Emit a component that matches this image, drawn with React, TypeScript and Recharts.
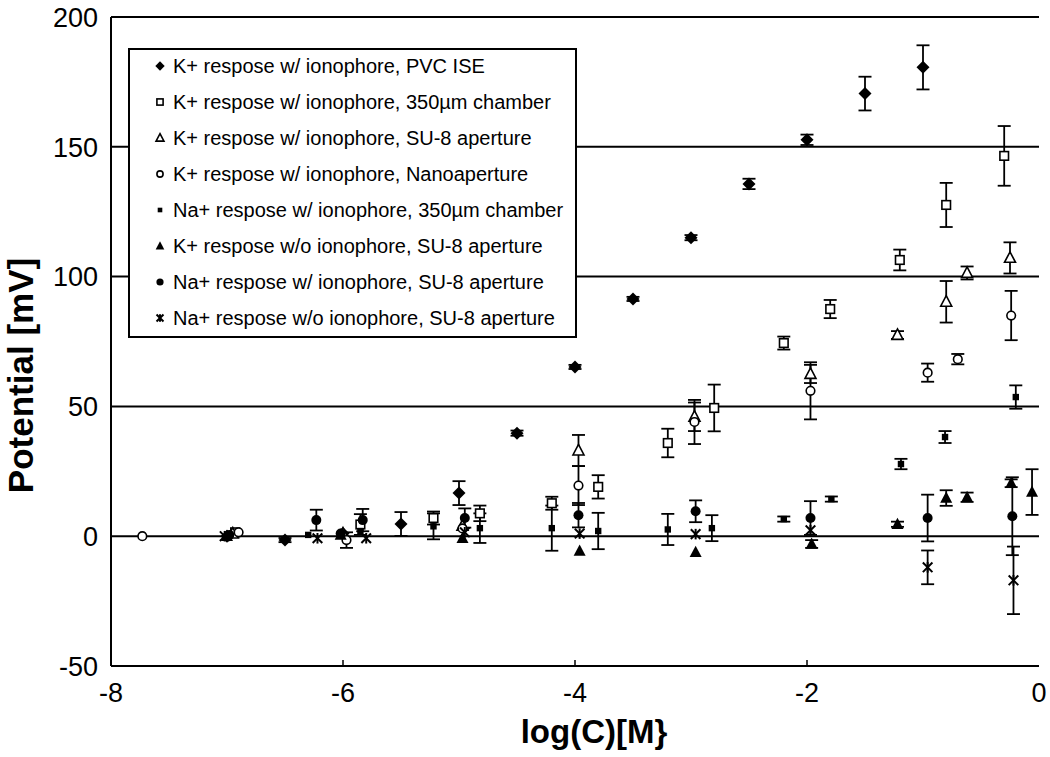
import React from "react"
import { ScatterChart, Scatter, XAxis, YAxis, CartesianGrid, ErrorBar, Legend } from "recharts"

const FONT = "'Liberation Sans', Arial, Helvetica, sans-serif"

// log(C) vs potential, err = half-length of the error bar
const kPvcIse = [
  { x: -7, y: 0 },
  { x: -6.5, y: -1.5, err: 0.8 },
  { x: -6, y: 1 },
  { x: -5.5, y: 4.7, err: 4.6 },
  { x: -5, y: 16.6, err: 4.6 },
  { x: -4.5, y: 39.7, err: 1 },
  { x: -4, y: 65.2, err: 0.8 },
  { x: -3.5, y: 91.4, err: 0.8 },
  { x: -3, y: 115, err: 1 },
  { x: -2.5, y: 135.7, err: 2 },
  { x: -2, y: 152.7, err: 2 },
  { x: -1.5, y: 170.5, err: 6.5 },
  { x: -1, y: 180.6, err: 8.5 },
]

const kChamber = [
  { x: -6.93, y: 1.5 },
  { x: -5.85, y: 4.5, err: 4 },
  { x: -5.22, y: 7, err: 2.5 },
  { x: -4.82, y: 8.8, err: 3 },
  { x: -4.2, y: 12.7, err: 2.5 },
  { x: -3.8, y: 19, err: 4.5 },
  { x: -3.2, y: 35.9, err: 5.5 },
  { x: -2.8, y: 49.4, err: 9 },
  { x: -2.2, y: 74.4, err: 2.5 },
  { x: -1.8, y: 87.5, err: 3.5 },
  { x: -1.2, y: 106.4, err: 4 },
  { x: -0.8, y: 127.6, err: 8.5 },
  { x: -0.3, y: 146.5, err: 11.5 },
]

const kSu8 = [
  { x: -6.95, y: 1 },
  { x: -6, y: 1 },
  { x: -4.97, y: 4 },
  { x: -3.97, y: 33, err: 6 },
  { x: -2.97, y: 46, err: 5.5 },
  { x: -1.97, y: 62.5, err: 3.5 },
  { x: -1.22, y: 77.5, err: 1.5 },
  { x: -0.8, y: 90.3, err: 8 },
  { x: -0.62, y: 101.4, err: 2.5 },
  { x: -0.25, y: 107.2, err: 6 },
]

const kNano = [
  { x: -7.73, y: 0 },
  { x: -6.9, y: 1.5 },
  { x: -5.97, y: -1.5, err: 3 },
  { x: -4.97, y: 3 },
  { x: -3.97, y: 19.5, err: 7.5 },
  { x: -2.97, y: 44, err: 8.5 },
  { x: -1.97, y: 56, err: 11 },
  { x: -0.96, y: 63, err: 3.5 },
  { x: -0.7, y: 68.2, err: 2 },
  { x: -0.24, y: 85, err: 9.5 },
]

const naChamber = [
  { x: -6.3, y: 0.5 },
  { x: -5.85, y: 2 },
  { x: -5.22, y: 3.8, err: 5 },
  { x: -4.82, y: 3.1, err: 5.7 },
  { x: -4.2, y: 3.1, err: 8.7 },
  { x: -3.8, y: 2, err: 7 },
  { x: -3.2, y: 2.6, err: 6 },
  { x: -2.82, y: 3.1, err: 5 },
  { x: -2.2, y: 6.6, err: 1 },
  { x: -1.79, y: 14.3, err: 1 },
  { x: -1.19, y: 27.8, err: 2 },
  { x: -0.81, y: 38.2, err: 2.3 },
  { x: -0.2, y: 53.6, err: 4.5 },
]

const kNoIonoSu8 = [
  { x: -7, y: 0 },
  { x: -6.02, y: 0.5 },
  { x: -4.97, y: -0.8 },
  { x: -3.96, y: -5.7 },
  { x: -2.96, y: -6.2 },
  { x: -1.96, y: -3, err: 1.5 },
  { x: -1.22, y: 4.6, err: 1 },
  { x: -0.8, y: 14.7, err: 3 },
  { x: -0.62, y: 15, err: 1.8 },
  { x: -0.24, y: 20.4, err: 1.5 },
  { x: -0.06, y: 17, err: 8.8 },
]

const naSu8 = [
  { x: -6.98, y: 0.5 },
  { x: -6.23, y: 6.2, err: 4 },
  { x: -6.02, y: 1 },
  { x: -5.83, y: 6.2, err: 4.3 },
  { x: -4.95, y: 7, err: 3.7 },
  { x: -3.97, y: 8.1, err: 4.7 },
  { x: -2.96, y: 9.6, err: 4.2 },
  { x: -1.97, y: 7, err: 6.5 },
  { x: -0.96, y: 7, err: 9 },
  { x: -0.23, y: 7.7, err: 15 },
]

const naNoIonoSu8 = [
  { x: -7.02, y: 0 },
  { x: -6.22, y: -0.8 },
  { x: -5.8, y: -0.8 },
  { x: -4.95, y: 1.5 },
  { x: -3.96, y: 1 },
  { x: -2.96, y: 0.8 },
  { x: -1.97, y: 2.3 },
  { x: -0.96, y: -12, err: 6.5 },
  { x: -0.22, y: -17, err: 13 },
]

const xTicks = [-8, -6, -4, -2, 0]
const yTicks = [-50, 0, 50, 100, 150, 200]

const series = [
  { name: "K+ respose w/ ionophore, PVC ISE", data: kPvcIse, kind: "diamond" },
  { name: "K+ respose w/ ionophore, 350µm chamber", data: kChamber, kind: "openSquare" },
  { name: "K+ respose w/ ionophore, SU-8 aperture", data: kSu8, kind: "openTriangle" },
  { name: "K+ respose w/ ionophore, Nanoaperture", data: kNano, kind: "openCircle" },
  { name: "Na+ respose w/ ionophore, 350µm chamber", data: naChamber, kind: "smallSquare" },
  { name: "K+ respose w/o ionophore, SU-8 aperture", data: kNoIonoSu8, kind: "triangle" },
  { name: "Na+ respose w/ ionophore, SU-8 aperture", data: naSu8, kind: "circle" },
  { name: "Na+ respose w/o ionophore, SU-8 aperture", data: naNoIonoSu8, kind: "asterisk" },
]

function Mark({ kind, cx, cy, k = 1 }: { kind: string; cx: number; cy: number; k?: number }) {
  const sw = 1.6
  if (cx == null || cy == null) return null
  switch (kind) {
    case "diamond": {
      const s = 6.5 * k
      return <polygon points={`${cx},${cy - s} ${cx + s},${cy} ${cx},${cy + s} ${cx - s},${cy}`} fill="#000" />
    }
    case "openSquare": {
      const s = 4.3 * k
      return <rect x={cx - s} y={cy - s} width={2 * s} height={2 * s} fill="#fff" stroke="#000" strokeWidth={sw} />
    }
    case "openTriangle": {
      const s = 5.5 * k
      return (
        <polygon
          points={`${cx},${cy - s * 1.1} ${cx + s},${cy + s * 0.8} ${cx - s},${cy + s * 0.8}`}
          fill="#fff"
          stroke="#000"
          strokeWidth={sw}
        />
      )
    }
    case "openCircle":
      return <circle cx={cx} cy={cy} r={4.3 * k} fill="#fff" stroke="#000" strokeWidth={sw} />
    case "smallSquare": {
      const s = 3.2 * k
      return <rect x={cx - s} y={cy - s} width={2 * s} height={2 * s} fill="#000" />
    }
    case "triangle": {
      const s = 6 * k
      return <polygon points={`${cx},${cy - s * 1.1} ${cx + s},${cy + s * 0.8} ${cx - s},${cy + s * 0.8}`} fill="#000" />
    }
    case "circle":
      return <circle cx={cx} cy={cy} r={5 * k} fill="#000" />
    case "asterisk": {
      const s = 4.8 * k
      return (
        <g stroke="#000" strokeWidth={2}>
          <line x1={cx - s} y1={cy - s} x2={cx + s} y2={cy + s} />
          <line x1={cx - s} y1={cy + s} x2={cx + s} y2={cy - s} />
          <line x1={cx} y1={cy - s * 1.1} x2={cx} y2={cy + s * 1.1} />
        </g>
      )
    }
  }
  return null
}

const XTick = ({ x, y, payload }: any) => (
  <g>
    {payload.value !== -8 && payload.value !== 0 && (
      <line x1={x} x2={x} y1={y} y2={y - 6} stroke="#000" strokeWidth={1.5} />
    )}
    <text x={x} y={y + 36} textAnchor="middle" fontSize={27} fontFamily={FONT} fill="#000">
      {payload.value}
    </text>
  </g>
)

const YTick = ({ x, y, payload }: any) => (
  <text x={x} y={y} dy="0.36em" textAnchor="end" fontSize={27} fontFamily={FONT} fill="#000">
    {payload.value}
  </text>
)

const xTitle = "log(C)[M}"
const yTitle = "Potential [mV]"

const XLabel = ({ viewBox }: any) => (
  <text
    x={viewBox.x + viewBox.width / 2 + 19}
    y={viewBox.y + 77}
    textAnchor="middle"
    fontSize={33}
    fontWeight="bold"
    fontFamily={FONT}
    fill="#000"
  >
    {xTitle}
  </text>
)

const YLabel = ({ viewBox }: any) => {
  const cx = viewBox.x + 33
  const cy = viewBox.y + viewBox.height / 2 + 34
  return (
    <text
      x={cx}
      y={cy}
      transform={`rotate(-90 ${cx} ${cy})`}
      textAnchor="middle"
      fontSize={35}
      fontWeight="bold"
      fontFamily={FONT}
      fill="#000"
    >
      {yTitle}
    </text>
  )
}

const LegendBox = () => (
  <div
    style={{
      width: 449,
      height: 290,
      boxSizing: "border-box",
      border: "2px solid #000",
      background: "#fff",
    }}
  >
    <svg width={445} height={286}>
      {series.map((s, i) => {
        const cy = 16 + i * 36
        return (
          <g key={s.name}>
            <Mark kind={s.kind} cx={30} cy={cy} k={0.72} />
            <text x={43} y={cy + 7} fontSize={20} fontFamily={FONT} fill="#000">
              {s.name}
            </text>
          </g>
        )
      })}
    </svg>
  </div>
)

export default function App() {
  return (
    <div style={{ position: "absolute", left: 0, top: 0, width: 1050, height: 757, background: "#fff" }}>
      <ScatterChart width={1050} height={757} margin={{ top: 17, right: 11, bottom: 0, left: 0 }}>
        <CartesianGrid horizontal vertical={false} stroke="#000" strokeWidth={2} />
        <XAxis
          type="number"
          dataKey="x"
          domain={[-8, 0]}
          ticks={xTicks}
          allowDataOverflow
          height={91}
          axisLine={{ stroke: "#000", strokeWidth: 2 }}
          tickLine={false}
          tickSize={0}
          tickMargin={0}
          tick={<XTick />}
          label={<XLabel />}
        />
        <XAxis xAxisId="top" orientation="top" type="number" domain={[-8, 0]} height={0} tick={false} tickLine={false} axisLine={{ stroke: "#000", strokeWidth: 2 }} />
        <YAxis
          type="number"
          dataKey="y"
          domain={[-50, 200]}
          ticks={yTicks}
          allowDataOverflow
          width={111}
          axisLine={{ stroke: "#000", strokeWidth: 2 }}
          tickLine={false}
          tickSize={0}
          tickMargin={13}
          tick={<YTick />}
          label={<YLabel />}
        />
        <YAxis yAxisId="right" orientation="right" type="number" domain={[-50, 200]} width={0} tick={false} tickLine={false} axisLine={{ stroke: "#000", strokeWidth: 2 }} />
        {series.map((s) => (
          <Scatter
            key={s.name}
            name={s.name}
            data={s.data}
            isAnimationActive={false}
            shape={(p: any) => <Mark kind={s.kind} cx={p.cx} cy={p.cy} />}
          >
            <ErrorBar dataKey="err" direction="y" width={6.5} stroke="#000" strokeWidth={1.8} />
          </Scatter>
        ))}
        <Legend
          layout="vertical"
          align="center"
          verticalAlign="middle"
          wrapperStyle={{ left: 128, top: 48, width: 449, height: 290 }}
          content={() => <LegendBox />}
        />
      </ScatterChart>
    </div>
  )
}
